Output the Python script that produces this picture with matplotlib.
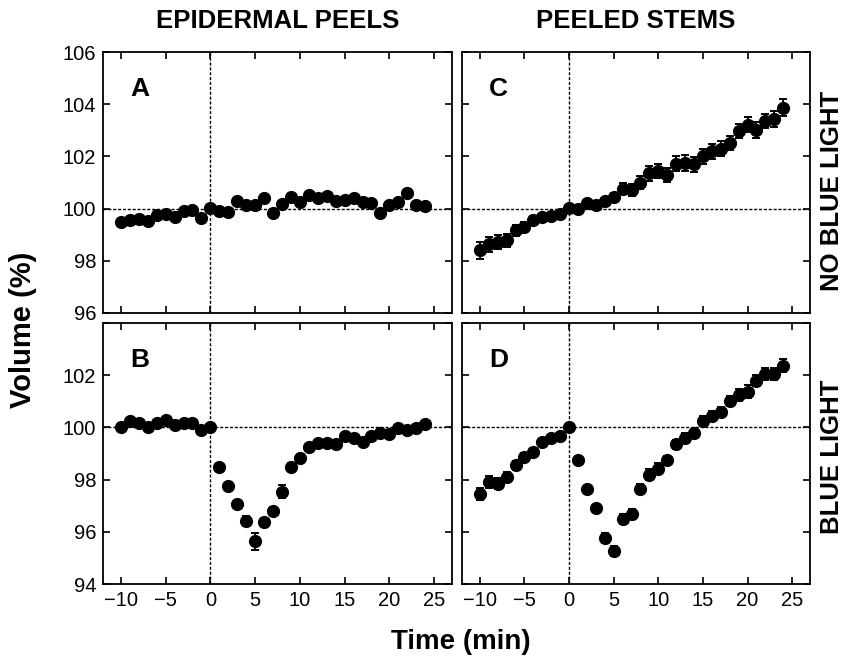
import matplotlib
matplotlib.use("Agg")
import matplotlib.pyplot as plt
import numpy as np

plt.rcParams['font.family'] = ['Liberation Sans', 'DejaVu Sans']

time_min = list(range(-10, 25))

# Panel A: epidermal peels, no blue light
vol_A = [99.49, 99.58, 99.62, 99.52, 99.75, 99.78, 99.68, 99.91, 99.94, 99.64,
         100.03, 99.91, 99.86, 100.28, 100.14, 100.14, 100.41, 99.83, 100.19, 100.45,
         100.25, 100.54, 100.41, 100.48, 100.28, 100.34, 100.41, 100.25, 100.22, 99.83,
         100.15, 100.27, 100.60, 100.15, 100.10]
err_A = [0.08] * 35

# Panel B: epidermal peels, blue light
vol_B = [100.03, 100.26, 100.18, 100.00, 100.18, 100.28, 100.09, 100.15, 100.18, 99.90,
         100.03, 98.49, 97.74, 97.08, 96.41, 95.64, 96.37, 96.79, 97.53, 98.49,
         98.83, 99.23, 99.41, 99.41, 99.36, 99.67, 99.58, 99.45, 99.67, 99.79,
         99.74, 99.96, 99.90, 99.96, 100.13]
err_B = [0.08, 0.08, 0.08, 0.08, 0.08, 0.08, 0.08, 0.08, 0.08, 0.08,
         0.05, 0.10, 0.12, 0.12, 0.18, 0.32, 0.15, 0.15, 0.25, 0.15,
         0.12, 0.10, 0.10, 0.10, 0.10, 0.10, 0.10, 0.10, 0.10, 0.10,
         0.10, 0.10, 0.10, 0.10, 0.10]

# Panel C: peeled stems, no blue light
vol_C = [98.40, 98.63, 98.72, 98.78, 99.17, 99.29, 99.58, 99.68, 99.72, 99.81,
         100.04, 100.00, 100.23, 100.13, 100.29, 100.45, 100.77, 100.71, 100.99, 101.35,
         101.44, 101.29, 101.72, 101.74, 101.70, 102.00, 102.19, 102.30, 102.52, 102.97,
         103.22, 103.00, 103.35, 103.44, 103.87]
err_C = [0.33, 0.28, 0.28, 0.25, 0.22, 0.20, 0.15, 0.12, 0.10, 0.10,
         0.08, 0.08, 0.10, 0.10, 0.12, 0.15, 0.22, 0.22, 0.25, 0.28,
         0.28, 0.28, 0.28, 0.30, 0.28, 0.28, 0.28, 0.28, 0.28, 0.28,
         0.30, 0.30, 0.28, 0.30, 0.32]

# Panel D: peeled stems, blue light
vol_D = [97.44, 97.91, 97.85, 98.10, 98.55, 98.85, 99.06, 99.45, 99.60, 99.67,
         100.00, 98.74, 97.63, 96.92, 95.77, 95.26, 96.50, 96.69, 97.63, 98.19,
         98.42, 98.74, 99.35, 99.60, 99.77, 100.24, 100.44, 100.60, 101.01, 101.24,
         101.37, 101.79, 102.05, 102.05, 102.36]
err_D = [0.22, 0.22, 0.22, 0.18, 0.18, 0.18, 0.15, 0.12, 0.10, 0.10,
         0.08, 0.10, 0.10, 0.10, 0.20, 0.20, 0.20, 0.20, 0.20, 0.20,
         0.20, 0.18, 0.18, 0.18, 0.18, 0.18, 0.20, 0.20, 0.20, 0.22,
         0.25, 0.22, 0.22, 0.22, 0.25]

x_ticks = [-10, -5, 0, 5, 10, 15, 20, 25]
x_ticklabels = ['\u221210', '\u22125', '0', '5', '10', '15', '20', '25']

col_titles = ['EPIDERMAL PEELS', 'PEELED STEMS']
row_labels = ['NO BLUE LIGHT', 'BLUE LIGHT']
panel_letters = ['A', 'B', 'C', 'D']

fig = plt.figure(figsize=(8.46, 6.56), dpi=100)
W, H = 846.0, 656.0
lefts = [103 / W, 462 / W]
widths = [349 / W, 348 / W]
bottoms = [1 - 313 / H, 1 - 584 / H]
height = 261 / H

data = {(0, 0): (vol_A, err_A, 'A'), (1, 0): (vol_B, err_B, 'B'),
        (0, 1): (vol_C, err_C, 'C'), (1, 1): (vol_D, err_D, 'D')}

axes = {}
for (r, c), (vals, errs, letter) in data.items():
    ax = fig.add_axes([lefts[c], bottoms[r], widths[c], height])
    axes[(r, c)] = ax
    ax.axhline(100, color='black', lw=1.0, ls=(0, (2.2, 1.3)), zorder=1)
    ax.axvline(0, color='black', lw=1.0, ls=(0, (2.2, 1.3)), zorder=1)
    ax.errorbar(time_min, vals, yerr=errs, fmt='o', color='black', ms=8.5,
                ecolor='black', elinewidth=1.4, capsize=2.8, capthick=1.4, zorder=3)
    ax.set_xlim(-12, 27)
    if r == 0:
        ax.set_ylim(96, 106)
        ax.set_yticks([96, 98, 100, 102, 104, 106])
    else:
        ax.set_ylim(94, 104)
        ax.set_yticks([94, 96, 98, 100, 102, 104])
    ax.set_xticks(x_ticks)
    ax.tick_params(direction='in', top=True, right=True, length=5, width=1.2,
                   labelsize=14.5, pad=5)
    if r == 1:
        ax.set_xticklabels(x_ticklabels)
    else:
        ax.set_xticklabels([])
    if c == 0:
        if r == 0:
            ax.set_yticklabels(['96', '98', '100', '102', '104', '106'])
        else:
            ax.set_yticklabels(['94', '96', '98', '100', '102', ''])
    else:
        ax.set_yticklabels([])
    for s in ax.spines.values():
        s.set_linewidth(1.3)
    ax.text(0.077, 0.83, letter, transform=ax.transAxes, fontsize=19,
            fontweight='bold', ha='left', va='baseline')

# column titles
for c in range(2):
    fig.text(lefts[c] + widths[c] / 2, 1 - 21 / H, col_titles[c], ha='center',
             va='center', fontsize=18.5, fontweight='bold')

# row labels
for r in range(2):
    fig.text(832 / W, bottoms[r] + height / 2 - (8 / H if r == 0 else 3 / H),
             row_labels[r], rotation=90, ha='center', va='center',
             fontsize=18.5, fontweight='bold')

fig.text(23 / W, 1 - 330 / H, 'Volume (%)', rotation=90, ha='center', va='center',
         fontsize=21, fontweight='bold')
fig.text(461 / W, 1 - 642 / H, 'Time (min)', ha='center', va='center',
         fontsize=20, fontweight='bold')

fig.savefig('out.png', dpi=100)
